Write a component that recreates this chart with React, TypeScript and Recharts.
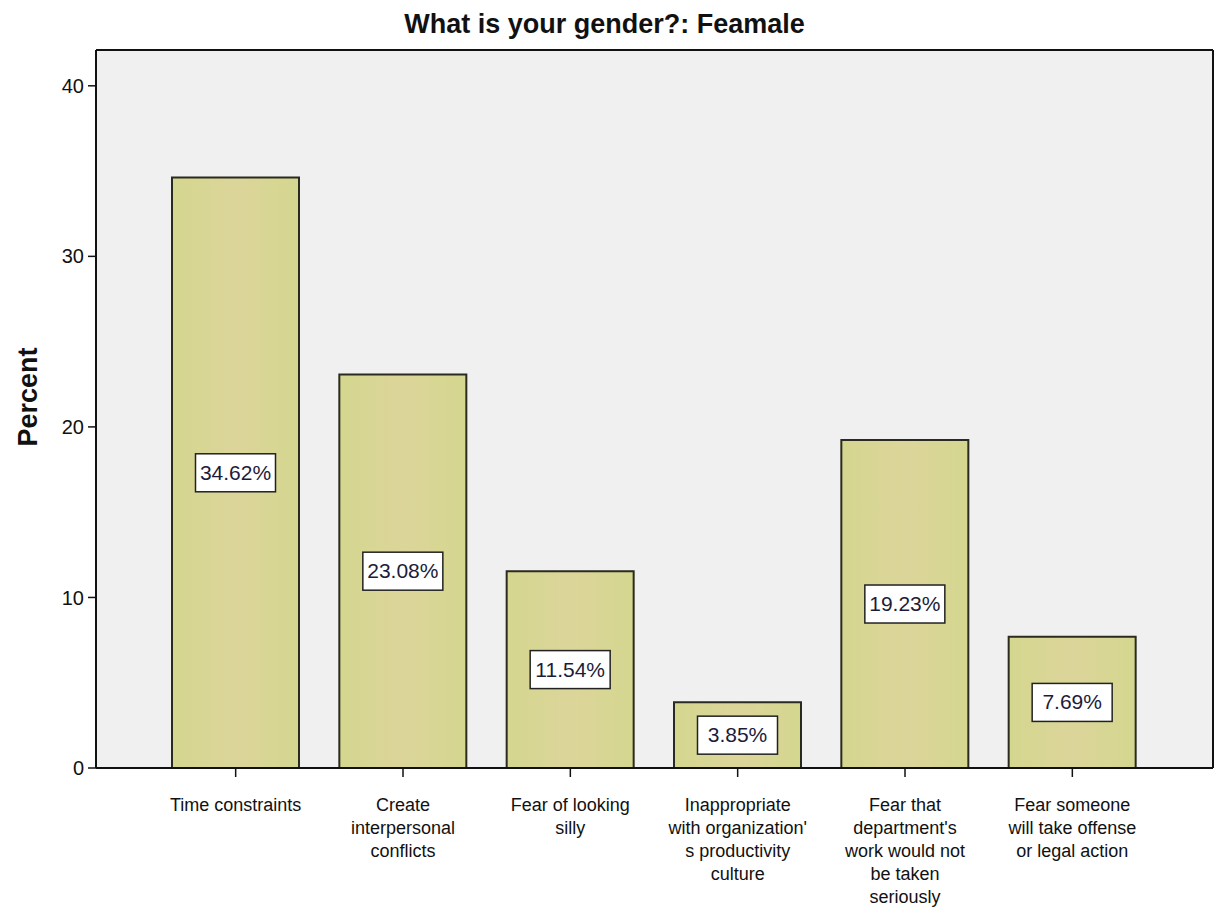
import { BarChart, Bar, XAxis, YAxis, CartesianGrid, LabelList } from "recharts";

const categories = [
  "Time constraints",
  "Create interpersonal conflicts",
  "Fear of looking silly",
  "Inappropriate with organization's productivity culture",
  "Fear that department's work would not be taken seriously",
  "Fear someone will take offense or legal action",
];

// wrapped the way the original axis shows them
const tickLines = [
  ["Time constraints"],
  ["Create", "interpersonal", "conflicts"],
  ["Fear of looking", "silly"],
  ["Inappropriate", "with organization'", "s productivity", "culture"],
  ["Fear that", "department's", "work would not", "be taken", "seriously"],
  ["Fear someone", "will take offense", "or legal action"],
];

const percents = [34.62, 23.08, 11.54, 3.85, 19.23, 7.69];

const yTicks = [0, 10, 20, 30, 40];
const yMax = 42.1;

const data = categories.map((name, i) => ({
  name,
  idx: i,
  percent: percents[i],
}));

const FONT = '"Liberation Sans", Arial, sans-serif';

function CategoryTick(props: any) {
  const { x, y, index } = props;
  const lines = tickLines[index] || [];
  return (
    <g transform={`translate(${x},${y})`}>
      <text textAnchor="middle" fontFamily={FONT} fontSize={18} fill="#111">
        {lines.map((ln, i) => (
          <tspan key={i} x={0} y={34 + i * 23}>
            {ln}
          </tspan>
        ))}
      </text>
    </g>
  );
}

function ValueBox(props: any) {
  const { x, y, width, height, value } = props;
  const cx = x + width / 2;
  const cy = y + height / 2;
  const w = 80;
  const h = 38;
  return (
    <g>
      <rect
        x={cx - w / 2}
        y={cy - h / 2}
        width={w}
        height={h}
        fill="#ffffff"
        stroke="#222"
        strokeWidth={1.5}
      />
      <text
        x={cx}
        y={cy + 7}
        textAnchor="middle"
        fontFamily={FONT}
        fontSize={21}
        fill="#1c1c3a"
      >
        {`${Number(value).toFixed(2)}%`}
      </text>
    </g>
  );
}

export default function App() {
  return (
    <div
      style={{
        position: "absolute",
        left: 0,
        top: 0,
        width: 1217,
        height: 915,
        background: "#fff",
        fontFamily: FONT,
      }}
    >
      <div
        style={{
          position: "absolute",
          left: -4,
          width: 1217,
          top: 9,
          textAlign: "center",
          fontWeight: "bold",
          fontSize: 27,
          color: "#111",
        }}
      >
        What is your gender?: Feamale
      </div>
      <div
        style={{
          position: "absolute",
          left: 28,
          top: 397,
          transform: "translate(-50%, -50%) rotate(-90deg)",
          fontWeight: "bold",
          fontSize: 27,
          color: "#111",
          whiteSpace: "nowrap",
        }}
      >
        Percent
      </div>
      <BarChart
        width={1217}
        height={915}
        data={data}
        margin={{ top: 50, right: 4, left: 0, bottom: 0 }}
      >
        <defs>
          <linearGradient id="barFill" x1="0" y1="0" x2="1" y2="0">
            <stop offset="0%" stopColor="#d4d78f" />
            <stop offset="50%" stopColor="#dcd59a" />
            <stop offset="100%" stopColor="#d4d78f" />
          </linearGradient>
        </defs>
        {/* plot background plus the top and right frame lines */}
        <CartesianGrid
          fill="#f0f0f0"
          stroke="#111"
          strokeWidth={2}
          horizontalCoordinatesGenerator={({ offset }: any) => [offset.top]}
          verticalCoordinatesGenerator={({ offset }: any) => [
            offset.left + offset.width,
          ]}
        />
        <XAxis
          dataKey="name"
          height={147}
          padding={{ left: 56, right: 57 }}
          interval={0}
          tickSize={9}
          tickMargin={0}
          tick={<CategoryTick />}
          axisLine={{ stroke: "#111", strokeWidth: 2 }}
          tickLine={{ stroke: "#111", strokeWidth: 1.5 }}
        />
        <YAxis
          width={96}
          domain={[0, yMax]}
          ticks={yTicks}
          allowDataOverflow
          tickSize={8}
          tickMargin={4}
          tick={{ fontSize: 20, fill: "#111", fontFamily: FONT }}
          axisLine={{ stroke: "#111", strokeWidth: 2 }}
          tickLine={{ stroke: "#111", strokeWidth: 1.5 }}
        />
        <Bar
          dataKey="percent"
          barSize={127}
          fill="url(#barFill)"
          stroke="#2a2a20"
          strokeWidth={2}
          isAnimationActive={false}
        >
          <LabelList dataKey="percent" content={<ValueBox />} />
        </Bar>
      </BarChart>
    </div>
  );
}
